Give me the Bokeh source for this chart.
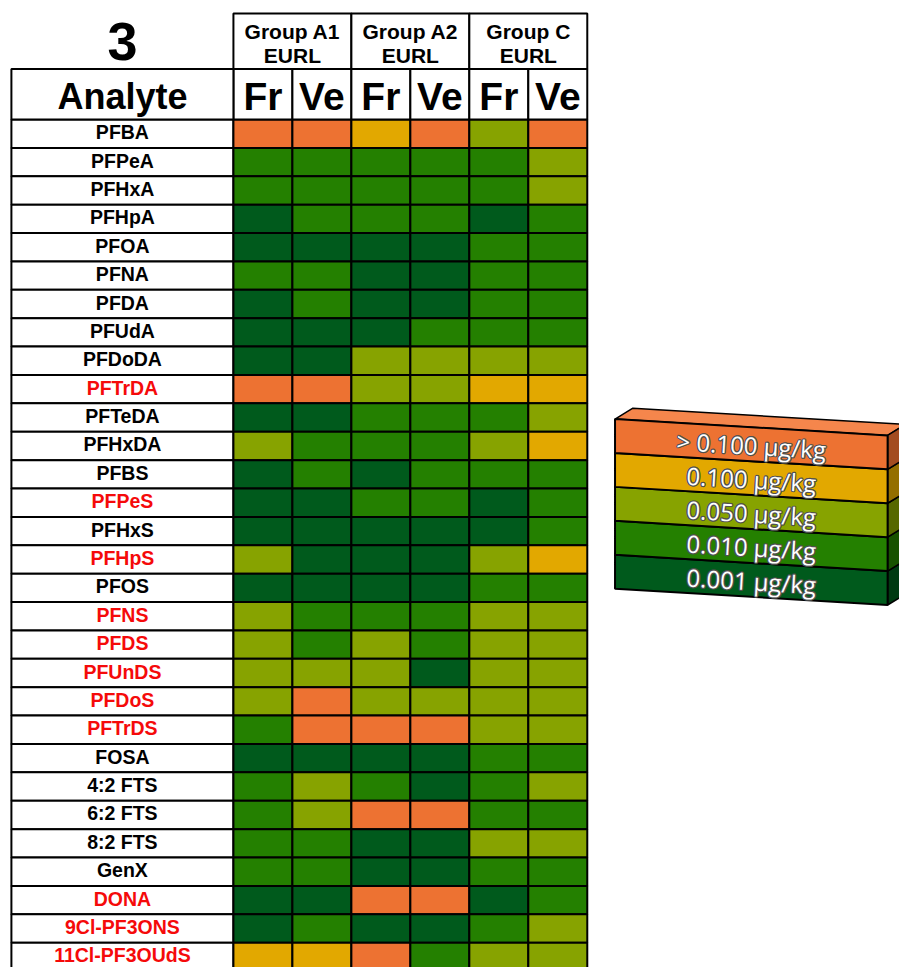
import math
from bokeh.plotting import figure
from bokeh.models import Range1d, ColumnDataSource
from bokeh.core.properties import value
from bokeh.embed import file_html
from bokeh.resources import INLINE

# ---------------- data ----------------
analytes = ["PFBA", "PFPeA", "PFHxA", "PFHpA", "PFOA", "PFNA", "PFDA", "PFUdA", "PFDoDA",
            "PFTrDA", "PFTeDA", "PFHxDA", "PFBS", "PFPeS", "PFHxS", "PFHpS", "PFOS", "PFNS",
            "PFDS", "PFUnDS", "PFDoS", "PFTrDS", "FOSA", "4:2 FTS", "6:2 FTS", "8:2 FTS",
            "GenX", "DONA", "9Cl-PF3ONS", "11Cl-PF3OUdS"]
highlighted = ["PFTrDA", "PFPeS", "PFHpS", "PFNS", "PFDS", "PFUnDS", "PFDoS", "PFTrDS",
               "DONA", "9Cl-PF3ONS", "11Cl-PF3OUdS"]

groups = ["Group A1", "Group A2", "Group C"]
group_sub = ["EURL", "EURL", "EURL"]
columns = ["Fr", "Ve", "Fr", "Ve", "Fr", "Ve"]

# level index: 0 = 0.001, 1 = 0.010, 2 = 0.050, 3 = 0.100, 4 = >0.100 µg/kg
a1_fr = [4, 1, 1, 0, 0, 1, 0, 0, 0, 4, 0, 2, 0, 0, 0, 2, 0, 2, 2, 2, 2, 1, 0, 1, 1, 1, 1, 0, 0, 3]
a1_ve = [4, 1, 1, 1, 0, 1, 1, 0, 0, 4, 0, 1, 1, 0, 0, 0, 0, 1, 1, 2, 4, 4, 0, 2, 2, 1, 1, 0, 1, 3]
a2_fr = [3, 1, 1, 1, 0, 0, 0, 0, 2, 2, 1, 1, 0, 1, 0, 0, 0, 1, 2, 2, 2, 4, 0, 1, 4, 0, 0, 4, 0, 4]
a2_ve = [4, 1, 1, 1, 0, 0, 0, 1, 2, 2, 1, 1, 1, 1, 0, 0, 0, 1, 1, 0, 2, 4, 0, 0, 4, 0, 0, 4, 0, 1]
c_fr  = [2, 1, 1, 0, 1, 1, 1, 1, 2, 3, 1, 2, 1, 0, 0, 2, 1, 2, 2, 2, 2, 2, 1, 1, 1, 2, 1, 0, 1, 2]
c_ve  = [4, 2, 2, 1, 1, 1, 1, 1, 2, 3, 2, 3, 1, 1, 1, 3, 1, 2, 2, 2, 2, 2, 1, 2, 1, 2, 1, 1, 2, 2]
series = [a1_fr, a1_ve, a2_fr, a2_ve, c_fr, c_ve]

legend_labels = ["> 0.100 \u03bcg/kg", "0.100 \u03bcg/kg", "0.050 \u03bcg/kg",
                 "0.010 \u03bcg/kg", "0.001 \u03bcg/kg"]
legend_levels = [4, 3, 2, 1, 0]

# ---------------- styles ----------------
level_colors = ["#005A1C", "#248000", "#87A300", "#E2A800", "#ED7232"]
side_colors = ["#003A12", "#175200", "#566800", "#946f00", "#a34c20"]
top_colors = ["#1f7436", "#3f9a1a", "#9fba1a", "#f0bb22", "#f5864c"]
RED = "#F50A0A"
FONT = "Liberation Sans"

X_LEFT, X_DATA = 11, 235
CW = (592 - 235) / 6.0
Y_GROUP_TOP, Y_HEAD_TOP, Y_ROWS = 13, 69, 120
RH = 28.62

p = figure(width=899, height=967, x_range=Range1d(0, 907), y_range=Range1d(975, 0),
           output_backend="svg", toolbar_location=None, min_border=0)
p.axis.visible = False
p.grid.visible = False
p.outline_line_color = None
p.background_fill_color = "white"

# ---------------- analyte column ----------------
n = len(analytes)
ys = [Y_ROWS + (i + 0.5) * RH for i in range(n)]
lab_src = ColumnDataSource(dict(
    x=[(X_LEFT + X_DATA) / 2] * n, y=[v - 1.5 for v in ys], text=analytes,
    color=[RED if a in highlighted else "black" for a in analytes]))
p.rect(x=(X_LEFT + X_DATA) / 2, y=ys, width=X_DATA - X_LEFT, height=RH,
       fill_color="white", line_color="black", line_width=2)
p.text(x="x", y="y", text="text", source=lab_src, text_color="color",
       text_font=value(FONT), text_font_style="bold", text_font_size="19.5px",
       text_align="center", text_baseline="middle")

# ---------------- cells ----------------
cx, cy, cc = [], [], []
for j, col in enumerate(series):
    for i, lv in enumerate(col):
        cx.append(X_DATA + (j + 0.5) * CW)
        cy.append(Y_ROWS + (i + 0.5) * RH)
        cc.append(level_colors[lv])
p.rect(x=cx, y=cy, width=CW, height=RH, fill_color=cc, line_color="black", line_width=2)

# ---------------- headers ----------------
gx = [X_DATA + (g + 0.5) * 2 * CW for g in range(3)]
p.rect(x=gx, y=(Y_GROUP_TOP + Y_HEAD_TOP) / 2, width=2 * CW, height=Y_HEAD_TOP - Y_GROUP_TOP,
       fill_color="white", line_color="black", line_width=2)
p.text(x=gx, y=[31] * 3, text=groups, text_font=value(FONT), text_font_style="bold",
       text_font_size="21px", text_align="center", text_baseline="middle", text_color="black")
p.text(x=gx, y=[55] * 3, text=group_sub, text_font=value(FONT), text_font_style="bold",
       text_font_size="21px", text_align="center", text_baseline="middle", text_color="black")
fx = [X_DATA + (j + 0.5) * CW for j in range(6)]
p.rect(x=fx, y=(Y_HEAD_TOP + Y_ROWS) / 2, width=CW, height=Y_ROWS - Y_HEAD_TOP,
       fill_color="white", line_color="black", line_width=2)
p.text(x=fx, y=[97] * 6, text=columns, text_font=value(FONT), text_font_style="bold",
       text_font_size="39px", text_align="center", text_baseline="middle", text_color="black")
p.rect(x=(X_LEFT + X_DATA) / 2, y=(Y_HEAD_TOP + Y_ROWS) / 2, width=X_DATA - X_LEFT,
       height=Y_ROWS - Y_HEAD_TOP, fill_color="white", line_color="black", line_width=2)
p.text(x=[(X_LEFT + X_DATA) / 2], y=[97], text=["Analyte"], text_font=value(FONT),
       text_font_style="bold", text_font_size="36px", text_align="center",
       text_baseline="middle", text_color="black")
p.text(x=[(X_LEFT + X_DATA) / 2], y=[41], text=["3"], text_font=value(FONT),
       text_font_style="bold", text_font_size="54px", text_align="center",
       text_baseline="middle", text_color="black")

# ---------------- 3D legend ----------------
LL, LR, LT, LH = 620, 895, 422, 34.2
SLOPE = 16.5 / (LR - LL)
DX, DY = 18, -11
dr = (LR - LL) * SLOPE
for i in list(range(len(legend_labels)))[::-1]:  # bottom bar first
    lv = legend_levels[i]
    t = LT + i * LH
    b = t + LH
    p.patches(xs=[[LL, LL + DX, LR + DX, LR]], ys=[[t, t + DY, t + dr + DY, t + dr]],
              fill_color=top_colors[lv], line_color="black", line_width=1.5)
    p.patches(xs=[[LR, LR + DX, LR + DX, LR]], ys=[[t + dr, t + dr + DY, b + dr + DY, b + dr]],
              fill_color=side_colors[lv], line_color="black", line_width=1.5)
    p.patches(xs=[[LL, LR, LR, LL]], ys=[[t, t + dr, b + dr, b]],
              fill_color=level_colors[lv], line_color="black", line_width=2)

mid = (LL + LR) / 2
lt_x = [mid] * len(legend_labels)
lt_y = [LT + (i + 0.5) * LH + (mid - LL) * SLOPE + 1 for i in range(len(legend_labels))]
ang = -math.atan(SLOPE)
for ox, oy in [(-1.2, 0), (1.2, 0), (0, -1.2), (0, 1.2), (-0.9, -0.9), (0.9, 0.9), (-0.9, 0.9), (0.9, -0.9)]:
    p.text(x=[v + ox for v in lt_x], y=[v + oy for v in lt_y], text=legend_labels, angle=ang,
           text_font=value("Open Sans"), text_font_size="24px", text_align="center",
           text_baseline="middle", text_color="#505050")
p.text(x=lt_x, y=lt_y, text=legend_labels, angle=ang, text_font=value("Open Sans"),
       text_font_size="24px", text_align="center", text_baseline="middle", text_color="white")

open("out.html", "w").write(file_html(p, INLINE))
